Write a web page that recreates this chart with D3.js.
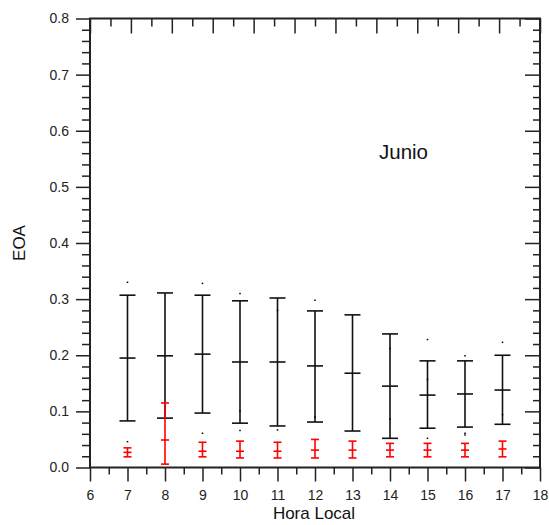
<!DOCTYPE html>
<html>
<head>
<meta charset="utf-8">
<script src="https://cdn.jsdelivr.net/npm/d3@7"></script>
<style>
  html, body { margin: 0; padding: 0; background: #fff; }
  svg { display: block; }
</style>
</head>
<body>
<script>
// ---------------- data ----------------
const hours       = [7, 8, 9, 10, 11, 12, 13, 14, 15, 16, 17];
const blackTop    = [0.307, 0.311, 0.307, 0.297, 0.302, 0.279, 0.272, 0.238, 0.190, 0.190, 0.200];
const blackMean   = [0.195, 0.199, 0.202, 0.188, 0.188, 0.181, 0.168, 0.145, 0.129, 0.131, 0.138];
const blackBottom = [0.083, 0.088, 0.097, 0.079, 0.074, 0.081, 0.065, 0.052, 0.070, 0.072, 0.077];
const redTop      = [0.035, 0.115, 0.045, 0.047, 0.045, 0.050, 0.047, 0.043, 0.043, 0.043, 0.047];
const redMean     = [0.027, 0.049, 0.029, 0.029, 0.029, 0.031, 0.031, 0.031, 0.031, 0.031, 0.033];
const redBottom   = [0.019, 0.006, 0.019, 0.017, 0.017, 0.017, 0.017, 0.019, 0.019, 0.019, 0.019];
const dotHours    = [7, 7, 9, 9, 10, 10, 10, 11, 11, 12, 12, 14, 14, 15, 15, 15, 16, 16, 16, 17, 17];
const dotValues   = [0.330, 0.046, 0.328, 0.061, 0.310, 0.066, 0.101, 0.280, 0.067, 0.298, 0.090,
                     0.212, 0.086, 0.228, 0.157, 0.052, 0.199, 0.061, 0.058, 0.223, 0.094];
const yTickLabels = ["0.0", "0.1", "0.2", "0.3", "0.4", "0.5", "0.6", "0.7", "0.8"];
const xTickLabels = ["6", "7", "8", "9", "10", "11", "12", "13", "14", "15", "16", "17", "18"];
const yTitle = "EOA";
const xTitle = "Hora Local";
const panelLabel = "Junio";

// ---------------- layout ----------------
const W = 549, H = 525;
const L = 90, R = 540, T = 18.5, B = 467.5;
const font = "Arial, 'Liberation Sans', sans-serif";
const axisColor = "#222";

const svg = d3.select("body").append("svg").attr("width", W).attr("height", H);

const x = d3.scaleLinear().domain([6, 18]).range([L, R]);
const y = d3.scaleLinear().domain([0, 0.8]).range([B, T]);
const xTop = d3.scaleLinear().domain([0, 11]).range([L, R]);

const yMajor = yTickLabels.map(Number);
const yMinor = d3.range(0, 41).map(i => i * 0.02).filter(v => Math.abs(v * 10 - Math.round(v * 10)) > 1e-6);
const xMajor = xTickLabels.map(Number);
const xMinor = d3.range(6.5, 18, 1);
const topMajor = d3.range(0, 12);
const topMinor = d3.range(0.5, 11, 1);

function styleAxis(g) {
  g.selectAll(".domain").remove();
  g.selectAll("line").attr("stroke", axisColor).attr("stroke-width", 1.5);
  g.selectAll("text").attr("fill", "#222").attr("font-family", font).attr("font-size", 14);
}

// left axis (outward)
svg.append("g").attr("transform", `translate(${L},0)`)
  .call(d3.axisLeft(y).tickValues(yMajor).tickSize(14).tickPadding(7)
        .tickFormat((d, i) => yTickLabels[i]))
  .call(styleAxis);
svg.append("g").attr("transform", `translate(${L},0)`)
  .call(d3.axisLeft(y).tickValues(yMinor).tickSize(8).tickFormat(""))
  .call(styleAxis);

// right axis (inward)
svg.append("g").attr("transform", `translate(${R},0)`)
  .call(d3.axisLeft(y).tickValues(yMajor).tickSize(15).tickFormat(""))
  .call(styleAxis);
svg.append("g").attr("transform", `translate(${R},0)`)
  .call(d3.axisLeft(y).tickValues(yMinor).tickSize(7).tickFormat(""))
  .call(styleAxis);

// bottom axis (outward)
svg.append("g").attr("transform", `translate(0,${B})`)
  .call(d3.axisBottom(x).tickValues(xMajor).tickSize(14).tickPadding(9)
        .tickFormat((d, i) => xTickLabels[i]))
  .call(styleAxis);
svg.append("g").attr("transform", `translate(0,${B})`)
  .call(d3.axisBottom(x).tickValues(xMinor).tickSize(7).tickFormat(""))
  .call(styleAxis);

// top axis (inward, unlabeled)
svg.append("g").attr("transform", `translate(0,${T})`)
  .call(d3.axisBottom(xTop).tickValues(topMajor).tickSize(15).tickFormat(""))
  .call(styleAxis);
svg.append("g").attr("transform", `translate(0,${T})`)
  .call(d3.axisBottom(xTop).tickValues(topMinor).tickSize(8).tickFormat(""))
  .call(styleAxis);

// frame
svg.append("rect").attr("x", L).attr("y", T).attr("width", R - L).attr("height", B - T)
  .attr("fill", "none").attr("stroke", axisColor).attr("stroke-width", 2);

// ---------------- error bars ----------------
function drawBars(top, mean, bottom, color, halfCap, sw) {
  const g = svg.append("g").attr("stroke", color).attr("stroke-width", sw).attr("fill", "none");
  hours.forEach((h, i) => {
    const cx = x(h);
    g.append("line").attr("x1", cx).attr("x2", cx).attr("y1", y(top[i])).attr("y2", y(bottom[i]));
    [top[i], mean[i], bottom[i]].forEach(v => {
      g.append("line").attr("x1", cx - halfCap).attr("x2", cx + halfCap)
        .attr("y1", y(v)).attr("y2", y(v));
    });
  });
}
drawBars(blackTop, blackMean, blackBottom, "#111", 8, 1.6);
drawBars(redTop, redMean, redBottom, "#ff0000", 4, 1.6);

// small dots
svg.append("g").selectAll("rect").data(dotHours).join("rect")
  .attr("x", (d) => x(d) - 0.75)
  .attr("y", (d, i) => y(dotValues[i]) - 0.75)
  .attr("width", 1.5).attr("height", 1.5)
  .attr("fill", "#000");

// ---------------- titles ----------------
svg.append("text")
  .attr("transform", `translate(25,243) rotate(-90)`)
  .attr("text-anchor", "middle")
  .attr("font-family", font).attr("font-size", 17).attr("fill", "#111")
  .text(yTitle);

svg.append("text")
  .attr("x", 314).attr("y", 519)
  .attr("text-anchor", "middle")
  .attr("font-family", font).attr("font-size", 17).attr("fill", "#111")
  .text(xTitle);

svg.append("text")
  .attr("x", 379).attr("y", 159)
  .attr("font-family", font).attr("font-size", 20.5).attr("fill", "#111")
  .text(panelLabel);
</script>
</body>
</html>
